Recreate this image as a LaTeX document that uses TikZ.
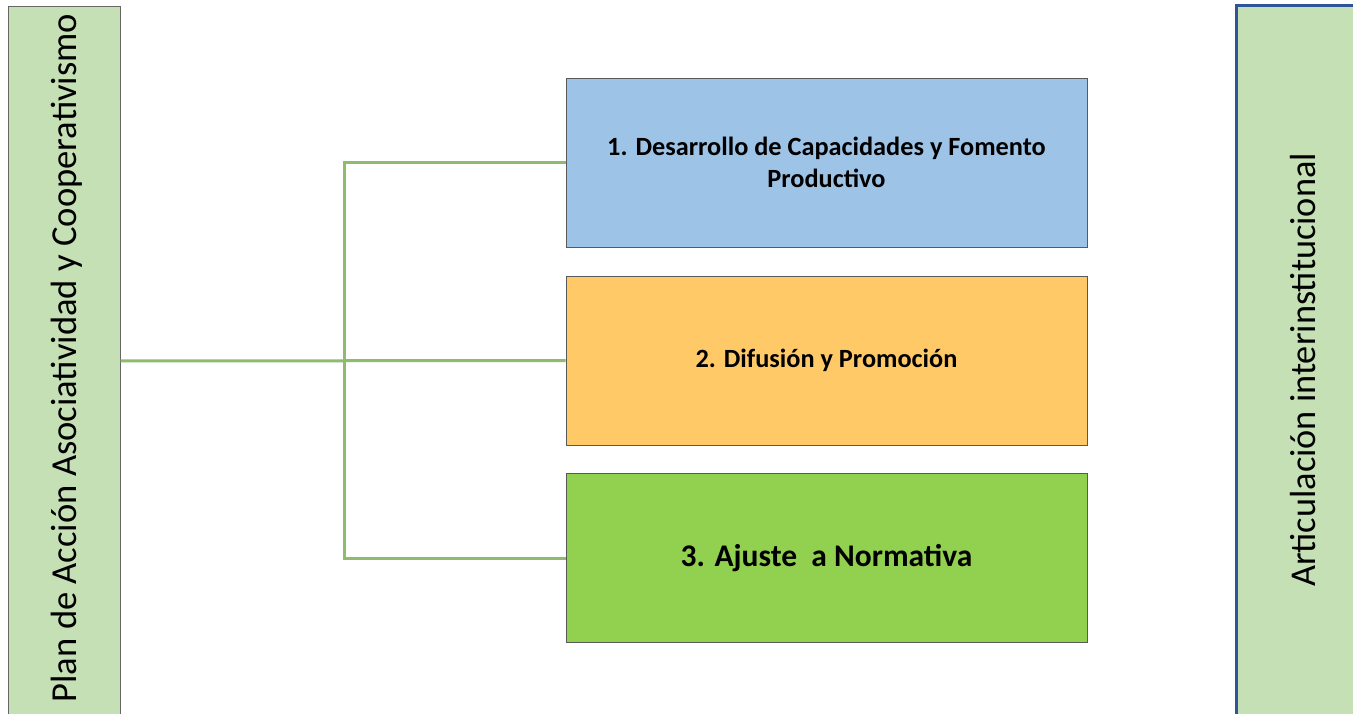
\documentclass[tikz,border=0pt]{standalone}
\usepackage{fontspec}
\setmainfont{Carlito}
\definecolor{barGreen}{HTML}{C5E0B4}
\definecolor{lineGreen}{HTML}{8CBC6C}
\definecolor{boxBlue}{HTML}{9DC3E6}
\definecolor{boxOrange}{HTML}{FFC967}
\definecolor{boxGreen}{HTML}{92D050}
\definecolor{darkBlue}{HTML}{2F5597}
\begin{document}
\begin{tikzpicture}[x=1pt,y=-1pt,
  box/.style={draw=gray!70!black,line width=0.8pt,minimum width=521pt,minimum height=169pt,inner sep=0pt,align=center,font=\bfseries},
  conn/.style={draw=lineGreen,line width=3pt}]
\useasboundingbox (0,0) rectangle (1353,714);
\fill[white] (0,0) rectangle (1353,714);
% left bar
\draw[fill=barGreen,draw=gray!80!black,line width=0.8pt] (8.5,6) rectangle (120.5,720);
\node[rotate=90,font=\fontsize{36.6}{40}\selectfont] (leftTxt) at (67,358) {Plan de Acción Asociatividad y Cooperativismo};
\coordinate (leftEdge) at (120.5,361);
% right bar
\draw[fill=barGreen,draw=darkBlue,line width=3pt] (1236,6) rectangle (1362,722);
\node[rotate=90,font=\fontsize{36.3}{40}\selectfont] (rightTxt) at (1303,370) {Articulación interinstitucional};
% boxes
\node[box,fill=boxBlue,font=\bfseries\fontsize{26.3}{32}\selectfont] (b1) at (826.5,162.5) {1. Desarrollo de Capacidades y Fomento\\Productivo};
\node[box,fill=boxOrange,font=\bfseries\fontsize{26.3}{32}\selectfont] (b2) at (826.5,360.5) {2. Difusión y Promoción};
\node[box,fill=boxGreen,font=\bfseries\fontsize{31.5}{36}\selectfont] (b3) at (826.5,558) {3. Ajuste\ \ a Normativa};
% connectors
\coordinate (junc) at (344,361);
\draw[conn] (leftEdge) -- (b2.west);
\draw[conn] (b1.west) -| (junc);
\draw[conn] (b3.west) -| (junc);
\end{tikzpicture}
\end{document}
